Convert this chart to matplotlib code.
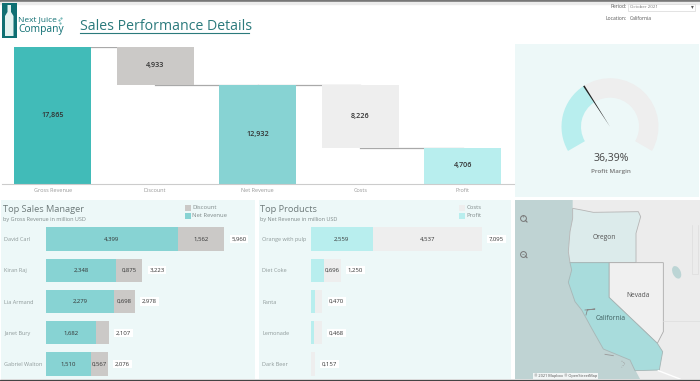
import matplotlib
matplotlib.use("Agg")
import numpy as np
import matplotlib.pyplot as plt
from matplotlib.patches import Rectangle, Wedge, Polygon, Ellipse

plt.rcParams['font.family'] = ['Open Sans', 'DejaVu Sans']

W, H = 700, 381

# waterfall
steps = ['Gross Revenue', 'Discount', 'Net Revenue', 'Costs', 'Profit']
step_values = [17865, 4933, 12932, 8226, 4706]
step_bottoms = [0, 12932, 0, 4706, 0]
step_colors = ['#41bbb8', '#cbc9c7', '#87d3d3', '#eeeeee', '#b8eeee']

# gauge
margin = 36.39

# sales managers, million USD
managers = ['David Carl', 'Kiran Raj', 'Lia Armand', 'Janet Bury', 'Gabriel Walton']
mgr_net = [4.399, 2.348, 2.279, 1.682, 1.510]
mgr_discount = [1.562, 0.875, 0.698, 0.425, 0.567]
mgr_total = [5.960, 3.223, 2.978, 2.107, 2.076]

# products, million USD
products = ['Orange with pulp', 'Diet Coke', 'Fanta', 'Lemonade', 'Dark Beer']
prod_profit = [2.559, 0.554, 0.18, 0.13, 0.0]
prod_costs = [4.537, 0.696, 0.29, 0.338, 0.157]
prod_total = [7.095, 1.250, 0.470, 0.468, 0.157]

# map outlines
oregon = [(188, 40), (215, 45), (250, 52), (385, 50), (392, 65), (378, 115), (378, 203),
          (180, 203), (175, 170), (180, 110), (188, 70)]
california = [(180, 203), (297, 203), (297, 307), (442, 445), (458, 470), (448, 525),
              (375, 527), (360, 495), (280, 462), (245, 400), (215, 345), (195, 320),
              (175, 262), (185, 225)]
nevada = [(297, 203), (460, 203), (460, 410), (442, 445), (297, 307)]
ocean = [(15, 15), (188, 15), (188, 70), (180, 110), (175, 170), (180, 203), (185, 225),
         (175, 262), (195, 320), (215, 345), (245, 400), (280, 462), (360, 495),
         (390, 552), (15, 552)]


def px_axes(x0, y0, x1, y1):
    ax = fig.add_axes([x0 / W, 1 - y1 / H, (x1 - x0) / W, (y1 - y0) / H])
    ax.patch.set_alpha(0)
    return ax


def num(v):
    return f"{v:.3f}".replace('.', ',')


def stacked(ax, names, first, second, totals, c1, c2, min1, min2):
    rows = np.arange(len(names))
    ax.barh(rows, first, height=0.74, color=c1)
    ax.barh(rows, second, left=first, height=0.74, color=c2)
    ax.set_ylim(4.5, -0.5)
    ax.set_yticks(rows, names)
    for s in ax.spines.values():
        s.set_visible(False)
    ax.set_xticks([])
    ax.tick_params(axis='y', length=0, labelsize=4, labelcolor='#8f9a9a')
    for i in rows:
        if first[i] >= min1:
            ax.text(first[i] / 2, i, num(first[i]), ha='center', va='center', fontsize=4.3, color='#333333')
        if second[i] >= min2:
            ax.text(first[i] + second[i] / 2, i, num(second[i]), ha='center', va='center', fontsize=4.3, color='#333333')
        ax.annotate(num(totals[i]), (first[i] + second[i], i), xytext=(10.4, 0), textcoords='offset points',
                    ha='center', va='center', fontsize=4.3, color='#333333',
                    bbox=dict(fc='white', ec='none', pad=1.2))


fig = plt.figure(figsize=(W / 100, H / 100), dpi=100, facecolor='white')

# page furniture in pixel coordinates
bg = fig.add_axes([0, 0, 1, 1])
bg.set_xlim(0, W)
bg.set_ylim(H, 0)
bg.axis('off')
bg.add_patch(Rectangle((0, 0), W, 1.5, color='#777777'))
bg.add_patch(Rectangle((0, 1.5), W, 2.5, color='#ececec'))
bg.add_patch(Rectangle((0, 379.5), W, 2, color='#444444', zorder=5))
for x0, y0, x1, y1 in [(515, 44, 699, 197), (1, 200, 255, 379), (259, 200, 511, 379)]:
    bg.add_patch(Rectangle((x0, y0), x1 - x0, y1 - y0, color='#edf8f8', lw=0))

# logo
teal = '#0f6f73'
bg.add_patch(Rectangle((2, 3), 14.5, 35, color=teal, lw=0))
bg.add_patch(Polygon([(7.5, 5), (11, 5), (11, 12), (13.5, 16), (13.5, 36), (5, 36), (5, 16), (7.5, 12)],
                     color='#e2f2f0', lw=0))
bg.text(18, 20, 'Next Juice', fontsize=6, color=teal, va='center')
bg.text(18, 29.5, 'Company', fontsize=7.4, color=teal, va='center')
bg.plot([59, 61, 60], [20, 18, 22.5], '.', ms=1, color='#5aa9a9')
bg.text(80, 26, 'Sales Performance Details', fontsize=10.2, color='#2b7a7c', va='center')
bg.plot([80, 249], [32.5, 32.5], color='#2b7a7c', lw=0.8)

# filters
bg.text(627, 7, 'Period:', fontsize=3.6, color='#555555', ha='right', va='center')
bg.add_patch(Rectangle((628, 3.5), 67, 7, fc='white', ec='#d8d8d8', lw=0.5))
bg.text(630, 7, 'October 2021', fontsize=3.2, color='#777777', va='center')
bg.text(692, 7, '▾', fontsize=4, color='#555555', ha='center', va='center')
bg.text(627, 18, 'Location:', fontsize=3.6, color='#555555', ha='right', va='center')
bg.text(630, 18, 'California', fontsize=3.6, color='#555555', va='center')

# panel titles and legends
bg.text(3, 209, 'Top Sales Manager', fontsize=6.7, color='#6f7b7b', va='center')
bg.text(3, 219, 'by Gross Revenue in million USD', fontsize=4, color='#7f8a8a', va='center')
bg.text(260, 209, 'Top Products', fontsize=6.7, color='#6f7b7b', va='center')
bg.text(260, 219, 'by Net Revenue in million USD', fontsize=4, color='#7f8a8a', va='center')
for x, y, c, label in [(185, 205, '#cbc9c7', 'Discount'), (185, 213, '#87d3d3', 'Net Revenue'),
                       (459, 205, '#eeeeee', 'Costs'), (459, 213, '#b8eeee', 'Profit')]:
    bg.add_patch(Rectangle((x, y), 5.5, 5.5, color=c, lw=0))
    bg.text(x + 7.5, y + 2.8, label, fontsize=4.2, color='#7f8a8a', va='center')

# waterfall chart
ax = px_axes(1.5, 47, 514, 184)
pos = np.arange(len(steps))
ax.bar(pos, step_values, bottom=step_bottoms, width=0.75, color=step_colors, zorder=2)
ax.set_xlim(-0.5, 4.5)
ax.set_ylim(0, step_values[0])
levels = [step_values[0], step_bottoms[1], step_values[2], step_bottoms[3]]
for i, lev in enumerate(levels):
    ax.plot([i, i + 1], [lev, lev], color='#a9a9a9', lw=0.9, zorder=1)
for i, v in enumerate(step_values):
    ax.text(i, step_bottoms[i] + v / 2, f"{v:,}", ha='center', va='center', fontsize=5.2,
            fontweight='semibold', color='#333333', zorder=3)
for s in ['top', 'left', 'right']:
    ax.spines[s].set_visible(False)
ax.spines['bottom'].set_color('#cccccc')
ax.set_yticks([])
ax.set_xticks(pos, steps)
ax.tick_params(axis='x', length=0, labelsize=4, labelcolor='#999999', pad=3)

# gauge
ax = px_axes(550, 66.7, 670, 186.7)
ax.set_xlim(-60, 60)
ax.set_ylim(-60, 60)
ax.axis('off')
start, span = 210, 240
needle_angle = start - span * margin / 100
ax.add_patch(Wedge((0, 0), 48.5, start - span, needle_angle, width=19.5, color='#eeeeee', lw=0))
ax.add_patch(Wedge((0, 0), 48.5, needle_angle, start, width=19.5, color='#b8eeee', lw=0))
a = np.radians(needle_angle)
tip = np.array([np.cos(a), np.sin(a)]) * 48.5
side = np.array([-np.sin(a), np.cos(a)]) * 0.8
ax.add_patch(Polygon([tip + side, tip - side, (0, 0)], color='#222222', lw=0))
ax.text(1.5, -31.5, f"{margin:.2f}%".replace('.', ','), fontsize=7.6, color='#444444', ha='center', va='center')
ax.text(1, -44.5, 'Profit Margin', fontsize=4.5, fontweight='semibold', color='#777777', ha='center', va='center')

# bars
ax = px_axes(46, 223.4, 250, 379.6)
stacked(ax, managers, mgr_net, mgr_discount, mgr_total, '#87d3d3', '#cbc9c7', 0.5, 0.5)
ax.set_xlim(0, 204 / 29.94)
plt.setp(ax.get_yticklabels(), ha='left')
ax.tick_params(axis='y', pad=30)

ax = px_axes(311, 223.4, 508, 379.6)
stacked(ax, products, prod_profit, prod_costs, prod_total, '#b8eeee', '#eeeeee', 0.6, 0.6)
ax.set_xlim(0, 197 / 24.1)
plt.setp(ax.get_yticklabels(), ha='left')
ax.tick_params(axis='y', pad=35)

# map
ax = px_axes(515, 200, 700, 379)
ax.set_xlim(15, 570)
ax.set_ylim(552, 15)
ax.set_xticks([])
ax.set_yticks([])
for s in ax.spines.values():
    s.set_visible(False)
ax.patch.set_alpha(1)
ax.set_facecolor('#ececec')
ax.add_patch(Polygon(ocean, color='#bfd3d3', lw=0))
ax.add_patch(Polygon(oregon, fc='#dcebeb', ec='#b5b5b5', lw=0.6))
ax.add_patch(Polygon(nevada, fc='#f0f0f0', ec='#aaaaaa', lw=0.6))
ax.add_patch(Polygon(california, fc='#a8dcdc', ec='#a5b5b5', lw=0.6))
ax.add_patch(Ellipse((500, 232), 24, 40, angle=-25, color='#bcd5d5', lw=0))
ax.plot([545, 545, 565, 565], [90, 238, 238, 90], color='#dddddd', lw=0.5)
ax.plot([460, 570], [378, 378], color='#dddddd', lw=0.5)
ax.plot([225, 255, 232, 228], [345, 342, 345, 360], color='#888888', lw=0.6)
ax.plot([285, 310], [478, 482], color='#999999', lw=0.6)
ax.plot([335, 345, 335], [498, 505, 517], color='#999999', lw=0.6, ls=':')
ax.plot([445, 510], [527, 552], color='white', lw=1)
ax.text(283, 127, 'Oregon', fontsize=4.8, color='#555555', ha='center', va='center')
ax.text(385, 301, 'Nevada', fontsize=4.8, color='#555555', ha='center', va='center')
ax.text(303, 371, 'California', fontsize=4.9, color='#3f5f60', ha='center', va='center')
ax.text(166, 543, '© 2021 Mapbox © OpenStreetMap', fontsize=2.8, color='#555555', ha='center', va='center',
        bbox=dict(fc='white', ec='none', alpha=0.8, pad=0.8))
for y, sign in [(69, '+'), (176, '−')]:
    ax.plot(39, y, 'o', ms=4.2, mfc='none', mec='#777777', mew=0.7)
    ax.plot([46, 51], [y + 7, y + 12], color='#777777', lw=0.8)
    ax.text(39, y, sign, fontsize=3.5, color='#777777', ha='center', va='center')

fig.savefig('out.png', dpi=100)
